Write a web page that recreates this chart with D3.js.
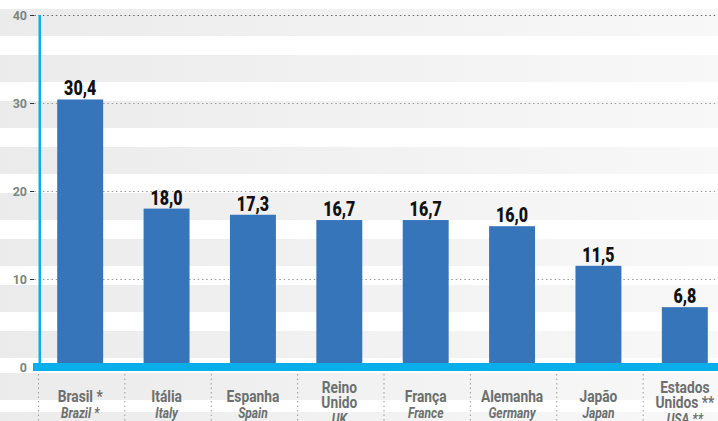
<!DOCTYPE html>
<html>
<head>
<meta charset="utf-8">
<script src="https://cdn.jsdelivr.net/npm/d3@7"></script>
<style>
  html, body { margin: 0; padding: 0; background: #ffffff; }
  svg { display: block; }
  text { font-family: Roboto, "Liberation Sans", Arial, sans-serif; }
</style>
</head>
<body>
<div id="chart"></div>
<script>
// Values per country (ranking chart, pt-BR labels with English below)
const countriesPt = [["Brasil *"], ["Itália"], ["Espanha"], ["Reino", "Unido"], ["França"], ["Alemanha"], ["Japão"], ["Estados", "Unidos **"]];
const countriesEn = ["Brazil *", "Italy", "Spain", "UK", "France", "Germany", "Japan", "USA **"];
const values = [30.4, 18.0, 17.3, 16.7, 16.7, 16.0, 11.5, 6.8];
const yTicks = [0, 10, 20, 30, 40];

const W = 718, H = 421;
const BAR = "#3675b9";
const CYAN = "#0aaeea";
const GREY_TXT = "#6b706e";
const SQUEEZE = 0.86; // fake a condensed face

const ptFmt = d3.formatLocale({ decimal: ",", thousands: ".", grouping: [3], currency: ["R$", ""] }).format(".1f");

const svg = d3.select("#chart").append("svg")
  .attr("width", W)
  .attr("height", H);

// horizontal grey stripes, fading to the right
const defs = svg.append("defs");
const grad = defs.append("linearGradient").attr("id", "stripe").attr("x1", 0).attr("x2", 1).attr("y1", 0).attr("y2", 0);
grad.append("stop").attr("offset", 0).attr("stop-color", "#ebebeb");
grad.append("stop").attr("offset", 1).attr("stop-color", "#f8f8f8");

const stripes = svg.append("g").attr("class", "stripes");
d3.range(8).forEach(i => {
  stripes.append("rect").attr("x", 0).attr("y", 9 + i * 46).attr("width", W).attr("height", 27).attr("fill", "url(#stripe)");
});
// label area stripes
[373, 412].forEach(y => {
  stripes.append("rect").attr("x", 0).attr("y", y).attr("width", W).attr("height", 27).attr("fill", "url(#stripe)");
});

// scales
const x = d3.scaleBand()
  .domain(d3.range(values.length))
  .range([37, 728])
  .paddingInner(0.468)
  .paddingOuter(0.234);

const y = d3.scaleLinear()
  .domain([0, 40])
  .range([367, 15]);

// gridlines (dotted)
const grid = svg.append("g").attr("class", "grid");
yTicks.filter(t => t > 0).forEach(t => {
  grid.append("line")
    .attr("x1", 30).attr("x2", W)
    .attr("y1", y(t) + 0.5).attr("y2", y(t) + 0.5)
    .attr("stroke", t === 40 ? "#666" : "#9a9a9a")
    .attr("stroke-width", 1)
    .attr("stroke-dasharray", "1.5,2.8");
  grid.append("line")
    .attr("x1", 30).attr("x2", 34)
    .attr("y1", y(t) + 0.5).attr("y2", y(t) + 0.5)
    .attr("stroke", "#333").attr("stroke-width", 1);
});

// tick labels
svg.append("g").selectAll("text")
  .data(yTicks)
  .join("text")
  .attr("x", 27)
  .attr("y", d => y(d) + 5)
  .attr("text-anchor", "end")
  .attr("font-weight", "bold")
  .attr("font-size", 12.5)
  .attr("fill", "#7b8582")
  .text(d => d);

// bars
svg.append("g").selectAll("rect")
  .data(values)
  .join("rect")
  .attr("x", (d, i) => x(i))
  .attr("y", d => y(d))
  .attr("width", x.bandwidth())
  .attr("height", d => y(0) - y(d))
  .attr("fill", BAR);

// value labels
svg.append("g").selectAll("text")
  .data(values)
  .join("text")
  .attr("transform", (d, i) => `translate(${x(i) + x.bandwidth() / 2},${y(d) - 4}) scale(0.8,1)`)
  .attr("text-anchor", "middle")
  .attr("font-weight", 900)
  .attr("font-size", 20)
  .attr("fill", "#111")
  .text(d => ptFmt(d));

// axes in cyan
svg.append("rect").attr("x", 38.5).attr("y", y(40)).attr("width", 2.5).attr("height", 363 - y(40)).attr("fill", CYAN);
svg.append("rect").attr("x", 33).attr("y", 363).attr("width", W - 33).attr("height", 8).attr("fill", CYAN);

// category separators
const step = x.step();
svg.append("g").selectAll("line")
  .data(d3.range(values.length))
  .join("line")
  .attr("x1", i => x(i) - x.paddingOuter() * step + 1.5)
  .attr("x2", i => x(i) - x.paddingOuter() * step + 1.5)
  .attr("y1", 374).attr("y2", H)
  .attr("stroke", "#9a9a9a")
  .attr("stroke-dasharray", "1.5,3");

// category labels
const cats = svg.append("g").attr("class", "cats");
countriesPt.forEach((lines, i) => {
  const cx = x(i) + x.bandwidth() / 2;
  const top = 402 - (lines.length - 1) * 9;
  const t = cats.append("text")
    .attr("transform", `translate(${cx},0) scale(${SQUEEZE},1)`)
    .attr("text-anchor", "middle")
    .attr("font-weight", "bold")
    .attr("font-size", 16)
    .attr("fill", GREY_TXT);
  lines.forEach((ln, k) => {
    t.append("tspan").attr("x", 0).attr("y", top + k * 15).text(ln);
  });
  cats.append("text")
    .attr("transform", `translate(${cx},${top + (lines.length - 1) * 15 + 16}) scale(${SQUEEZE},1)`)
    .attr("text-anchor", "middle")
    .attr("font-weight", "bold")
    .attr("font-style", "italic")
    .attr("font-size", 14)
    .attr("fill", GREY_TXT)
    .text(countriesEn[i]);
});
</script>
</body>
</html>
